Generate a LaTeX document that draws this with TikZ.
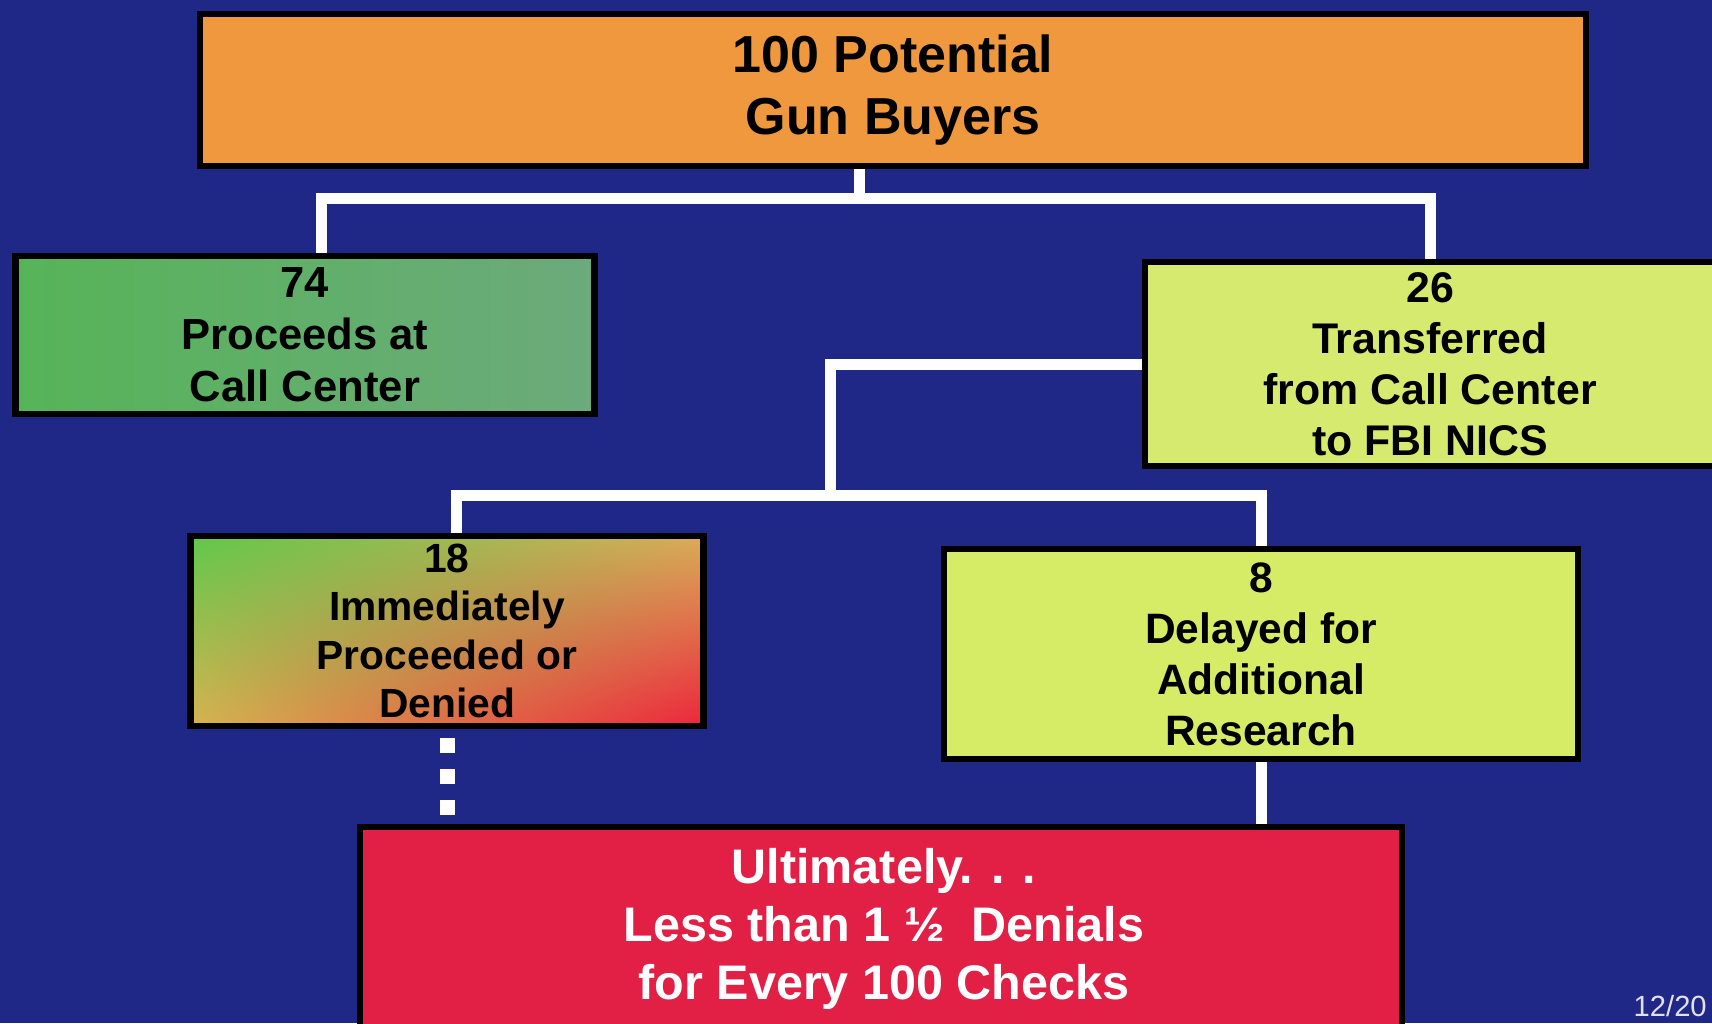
\documentclass[tikz,border=0pt]{standalone}
\usepackage{fontspec}
\setmainfont{Liberation Sans}
\usetikzlibrary{backgrounds,shadings}
\definecolor{slideblue}{RGB}{32,40,135}
\definecolor{toporange}{RGB}{240,152,62}
\definecolor{callgreen}{RGB}{86,180,88}
\definecolor{callteal}{RGB}{108,170,124}
\definecolor{nicslime}{RGB}{214,234,112}
\definecolor{delaylime}{RGB}{214,236,102}
\definecolor{finalred}{RGB}{226,32,70}
\definecolor{pagegray}{RGB}{225,225,235}
\definecolor{mixgreen}{RGB}{96,200,76}
\definecolor{mixtan}{RGB}{218,172,88}
\definecolor{mixamber}{RGB}{214,180,80}
\definecolor{mixred}{RGB}{236,38,60}

\begin{document}
\begin{tikzpicture}[x=0.1mm,y=-0.1mm,
  box/.style={draw=black,line width=0.65mm,inner sep=0pt,align=center},
  wire/.style={draw=white,line width=1.1mm},
  dots/.style={draw=white,line width=1.5mm,dash pattern=on 1.5mm off 1.6mm,dash phase=2.2mm}]
\useasboundingbox (0,0) rectangle (1712,1023);
\clip (0,0) rectangle (1712,1023);

% --- boxes ---
\node[box,fill=toporange,minimum width=138.6mm,minimum height=15.2mm,
  font=\bfseries\fontsize{14.8}{17.4}\selectfont] (buyers) at (893,90) {100 Potential\\Gun Buyers};
\node[box,left color=callgreen,right color=callteal,minimum width=57.9mm,minimum height=15.8mm,
  font=\bfseries\fontsize{12.4}{14.8}\selectfont] (call) at (305,335) {74\\Proceeds at\\Call Center};
\node[box,fill=nicslime,minimum width=57mm,minimum height=20.4mm,
  font=\bfseries\fontsize{12.2}{14.5}\selectfont] (nics) at (1430,364) {26\\Transferred\\from Call Center\\to FBI NICS};
\node[box,shading=bilinear interpolation,upper left=mixgreen,upper right=mixtan,
  lower left=mixamber,lower right=mixred,
  minimum width=51.3mm,minimum height=19mm,
  font=\bfseries\fontsize{11.6}{13.7}\selectfont] (instant) at (447,631) {18\\Immediately\\Proceeded or\\Denied};
\node[box,fill=delaylime,minimum width=63.4mm,minimum height=21mm,
  font=\bfseries\fontsize{12.1}{14.5}\selectfont] (delay) at (1261,654) {8\\Delayed for\\Additional\\Research};

% bottom box runs off the slide
\node[box,fill=finalred,minimum width=104.2mm,minimum height=26mm] (final) at (881,957) {};
\node[text=white,align=center,font=\bfseries\fontsize{13.8}{16.6}\selectfont] (verdict) at (884,929)
  {Ultimately. . .\\Less than 1 ½\ \ Denials\\for Every 100 Checks};

\node[anchor=base west,inner sep=0pt,text=pagegray,font=\fontsize{8.3}{10}\selectfont] (pgnum) at (1633,1016) {12/20};

% --- connectors ---
\coordinate (jtop) at (859,198);
\coordinate (jmid) at (830,495);
\begin{pgfonlayer}{background}
\fill[slideblue] (0,0) rectangle (1712,1023);
\draw[wire] (buyers.south -| jtop) -- (jtop);
\draw[wire] ([xshift=1.6mm]call.north) |- (jtop) -| (nics.north);
\draw[wire] (nics.west) -| (jmid);
\draw[wire] ([xshift=0.9mm]instant.north) |- (jmid) -| (delay.north);
\draw[dots] (instant.south) -- (instant.south |- final.north);
\draw[wire] (delay.south) -- (delay.south |- final.north);
\end{pgfonlayer}
\end{tikzpicture}
\end{document}
